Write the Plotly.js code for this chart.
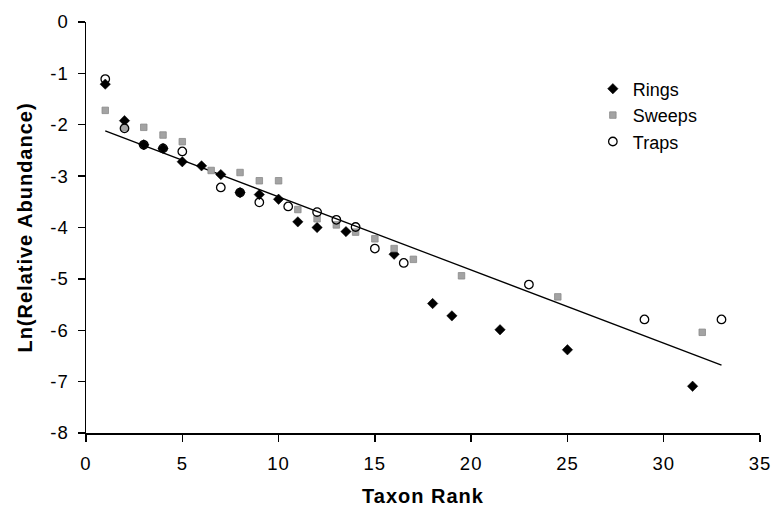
<!DOCTYPE html>
<html>
<head>
<meta charset="utf-8">
<script src="https://cdn.plot.ly/plotly-3.0.1.min.js"></script>
<style>html,body{margin:0;padding:0;background:#fff;}#chart{width:773px;height:512px;}</style>
</head>
<body>
<div id="chart"></div>
<script>
// Rings
const ringsX = [1, 2, 3, 4, 5, 6, 7, 8, 9, 10, 11, 12, 13.5, 16, 18, 19, 21.5, 25, 31.5];
const ringsY = [-1.21, -1.92, -2.39, -2.46, -2.72, -2.80, -2.97, -3.32, -3.36, -3.45, -3.89, -4.00, -4.08, -4.52, -5.48, -5.72, -5.99, -6.38, -7.09];
// Sweeps
const sweepsX = [1, 2, 3, 4, 5, 6.5, 8, 9, 10, 11, 12, 13, 14, 15, 16, 17, 19.5, 24.5, 32];
const sweepsY = [-1.72, -2.06, -2.05, -2.20, -2.33, -2.89, -2.93, -3.09, -3.09, -3.65, -3.83, -3.95, -4.09, -4.22, -4.41, -4.62, -4.94, -5.35, -6.04];
// Traps
const trapsX = [1, 2, 3, 4, 5, 7, 8, 9, 10.5, 12, 13, 14, 15, 16.5, 23, 29, 33];
const trapsY = [-1.11, -2.07, -2.39, -2.46, -2.52, -3.22, -3.32, -3.51, -3.59, -3.70, -3.85, -3.99, -4.41, -4.69, -5.11, -5.79, -5.79];
// Trend line
const trendX = [1, 33];
const trendY = [-2.12, -6.68];
const xTicks = [0, 5, 10, 15, 20, 25, 30, 35];
const yTicks = [0, -1, -2, -3, -4, -5, -6, -7, -8];

const font = 'Liberation Sans, Arial, sans-serif';
const traces = [
  {x: trendX, y: trendY, mode: 'lines', line: {color: '#000', width: 1.3}, showlegend: false, hoverinfo: 'skip'},
  {x: ringsX, y: ringsY, mode: 'markers', name: 'Rings',
   marker: {symbol: 'diamond', size: 8, color: '#000', line: {color: '#000', width: 0.5}}},
  {x: sweepsX, y: sweepsY, mode: 'markers', name: 'Sweeps',
   marker: {symbol: 'square', size: 6.5, color: '#a3a3a3', line: {color: '#8a8a8a', width: 0.8}}},
  {x: trapsX, y: trapsY, mode: 'markers', name: 'Traps',
   marker: {symbol: 'circle-open', size: 8.5, color: '#000', line: {color: '#000', width: 1.3}}}
];

const layout = {
  width: 773, height: 512,
  margin: {l: 86, r: 13, t: 22, b: 78.5},
  paper_bgcolor: '#fff', plot_bgcolor: '#fff',
  font: {family: font, size: 16, color: '#000'},
  showlegend: true,
  legend: {x: 0.752, y: 0.882, xanchor: 'left', yanchor: 'top', bgcolor: 'rgba(0,0,0,0)',
           font: {family: font, size: 18, color: '#000'}, tracegroupgap: 0, itemwidth: 30},
  xaxis: {
    range: [0, 35], tickvals: xTicks, ticktext: xTicks.map(String),
    showgrid: false, zeroline: false, showline: true, linecolor: '#000', linewidth: 1.5,
    ticks: 'outside', ticklen: 7, tickwidth: 1.3, tickcolor: '#000', ticklabelstandoff: 6,
    tickfont: {family: font, size: 18.5, color: '#000'},
    title: {text: '<b>Taxon Rank</b>', font: {family: font, size: 20, color: '#000'}, standoff: 16}
  },
  yaxis: {
    range: [-8, 0], tickvals: yTicks, ticktext: yTicks.map(String),
    showgrid: false, zeroline: false, showline: true, linecolor: '#000', linewidth: 1.5,
    ticks: 'outside', ticklen: 7, tickwidth: 1.3, tickcolor: '#000', ticklabelstandoff: 5,
    tickfont: {family: font, size: 18.5, color: '#000'},
    title: {text: '<b>Ln(Relative Abundance)</b>', font: {family: font, size: 20, color: '#000'}, standoff: 14}
  }
};

Plotly.newPlot('chart', traces, layout, {staticPlot: true, displayModeBar: false}).then(function (gd) {
  gd.querySelectorAll('.xtick text, .ytick text').forEach(function (t) { t.style.letterSpacing = '1px'; });
  gd.querySelectorAll('.g-xtitle text, .g-ytitle text').forEach(function (t) { t.style.letterSpacing = '1px'; });
});
</script>
</body>
</html>
